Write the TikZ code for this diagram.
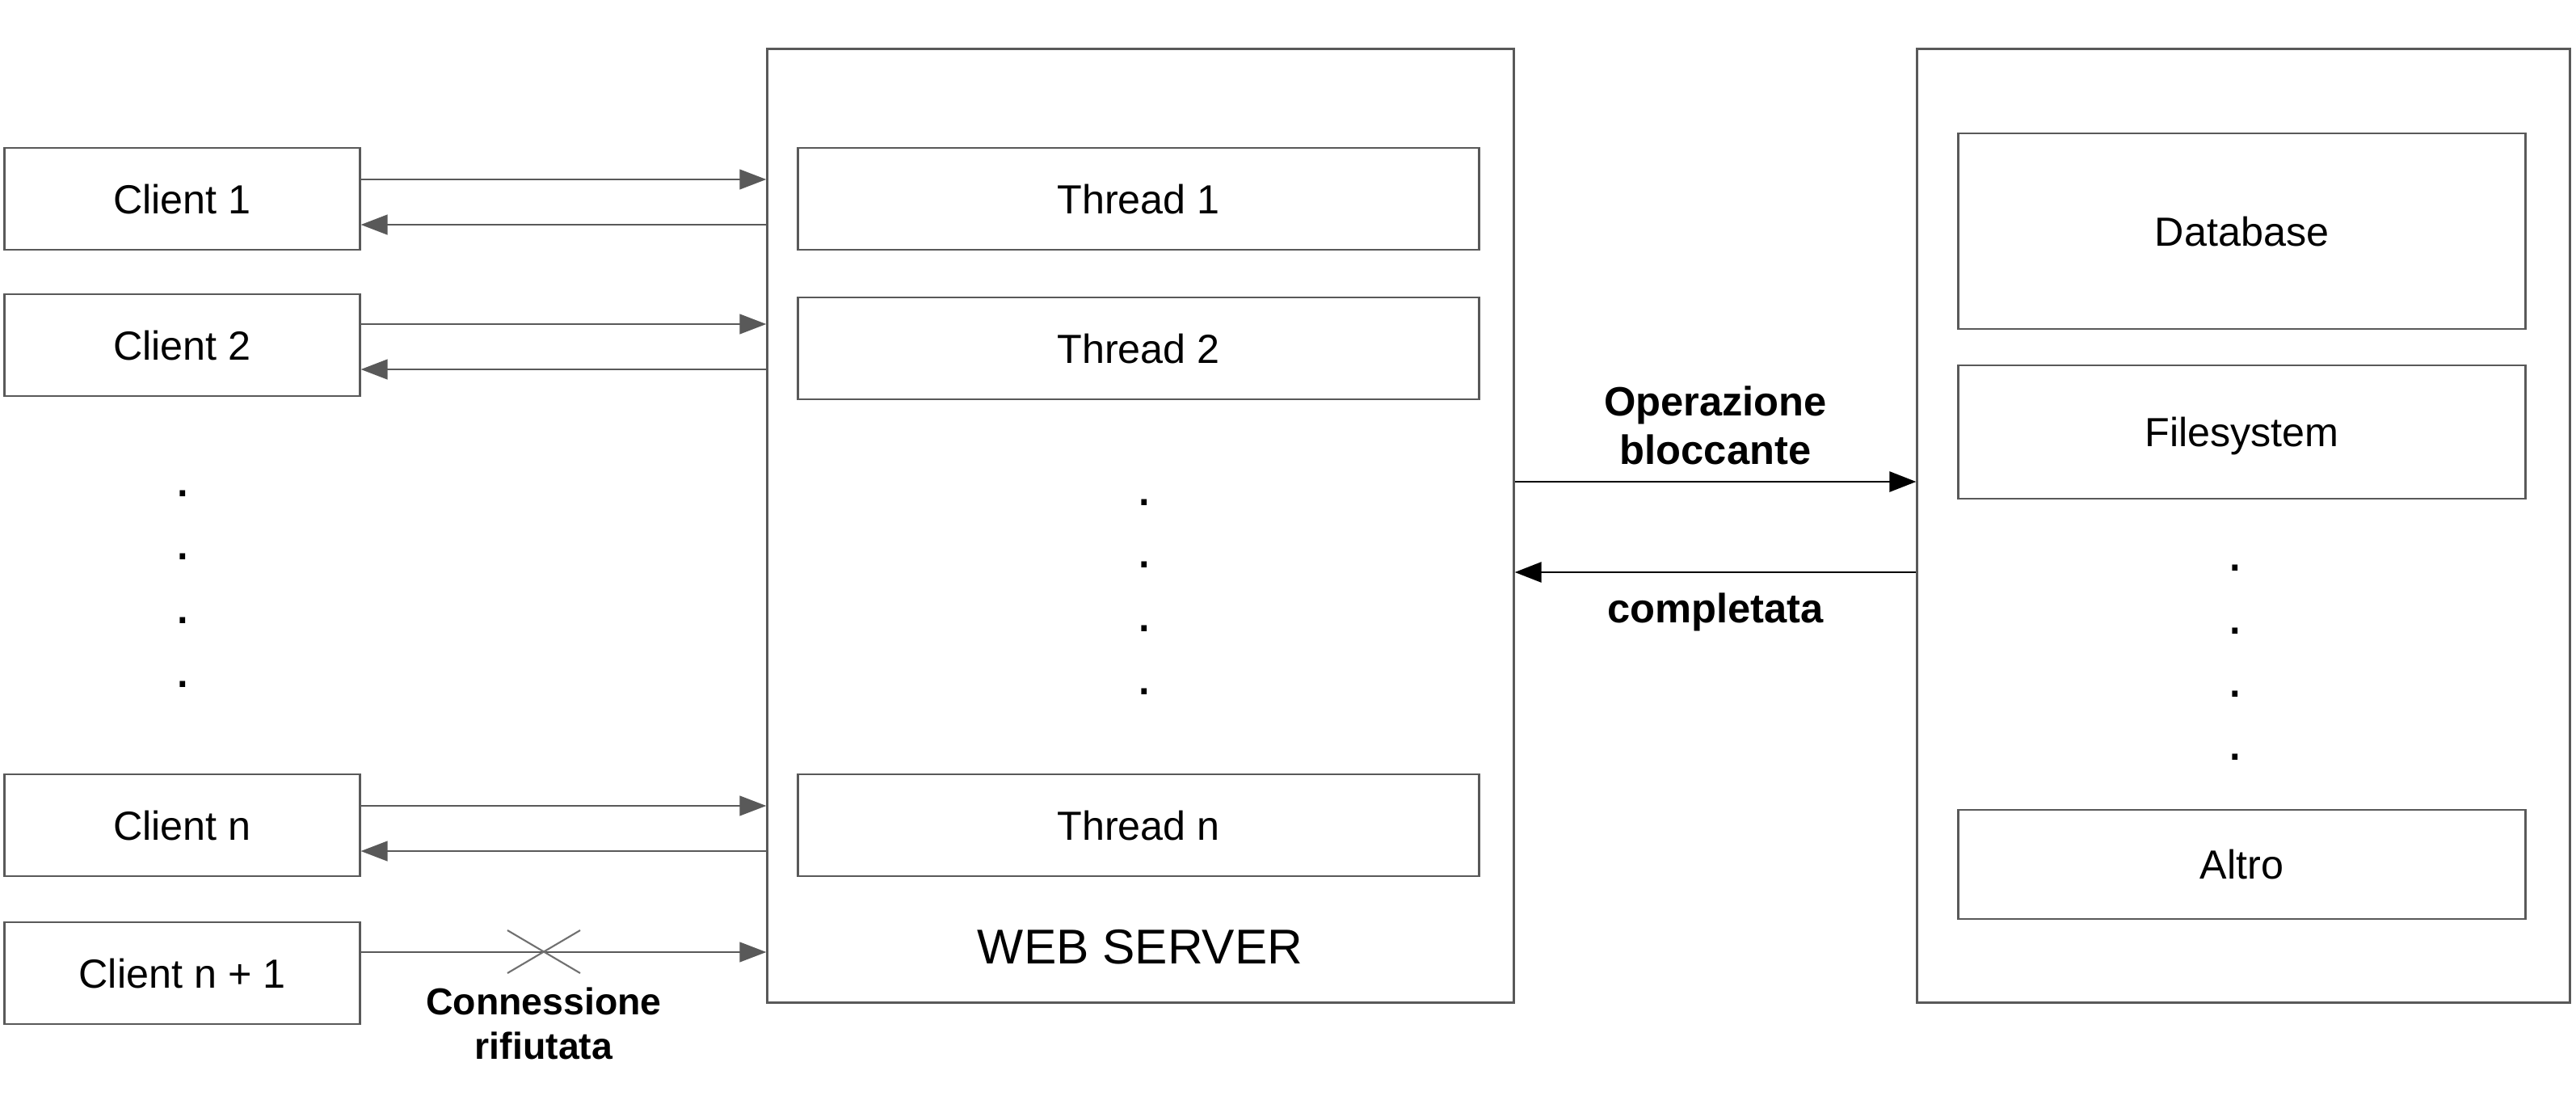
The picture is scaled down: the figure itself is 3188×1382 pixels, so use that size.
\documentclass[tikz,border=0pt]{standalone}
\usepackage{fontspec}
\setmainfont{Liberation Sans}
\usetikzlibrary{arrows.meta,calc}
\definecolor{lg}{HTML}{595959}
\definecolor{xg}{HTML}{707070}
\begin{document}
\begin{tikzpicture}[x=0.01cm,y=-0.01cm,
  box/.style={draw=lg,line width=0.8pt,inner sep=0,text height=10.3pt,text depth=0pt,font=\fontsize{14.3}{17}\selectfont},
  garrow/.style={draw=lg,line width=0.8pt,-{Triangle[length=0.33cm,width=0.245cm]}},
  barrow/.style={draw=black,line width=0.8pt,-{Triangle[length=0.33cm,width=0.25cm]}},
  lbl/.style={font=\fontsize{14.4}{17}\selectfont\bfseries,inner sep=0,anchor=base},
  slbl/.style={font=\fontsize{13.2}{16}\selectfont\bfseries,inner sep=0,anchor=base},
  dotlbl/.style={font=\fontsize{20}{24}\selectfont,inner sep=0,anchor=base},
  cbox/.style={box,minimum width=4.39cm,minimum height=1.26cm},
  tbox/.style={box,minimum width=8.42cm,minimum height=1.26cm},
  sbox/.style={box,minimum width=7.01cm}]
\useasboundingbox (0,0) rectangle (3188,1382);

% clients
\node[cbox] (c1) at (225.5,246) {Client 1};
\node[cbox] (c2) at (225.5,427) {Client 2};
\node[cbox] (cn) at (225.5,1021) {Client n};
\node[cbox] (cm) at (225.5,1204) {Client n + 1};

% web server
\node[box,minimum width=9.23cm,minimum height=11.79cm] (srv) at (1411.5,650.5) {};
\node[tbox] (t1) at (1409,246) {Thread 1};
\node[tbox] (t2) at (1409,431) {Thread 2};
\node[tbox] (tn) at (1409,1021) {Thread n};
\node[font=\fontsize{17.2}{20}\selectfont,inner sep=0,anchor=base] (wsl) at (1411,1192) {WEB SERVER};

% storage
\node[box,minimum width=8.07cm,minimum height=11.79cm] (store) at (2776.5,650.5) {};
\node[sbox,minimum height=2.42cm] (db) at (2774.5,286) {Database};
\node[sbox,minimum height=1.65cm] (fs) at (2774.5,534.5) {Filesystem};
\node[sbox,minimum height=1.35cm] (al) at (2774.5,1069.5) {Altro};

% dots
\node[dotlbl] (ld1) at (226,614.3) {.};
\node[dotlbl] (ld2) at (226,692.3) {.};
\node[dotlbl] (ld3) at (226,771.3) {.};
\node[dotlbl] (ld4) at (226,850.3) {.};
\node[dotlbl] (md1) at (1416,625.3) {.};
\node[dotlbl] (md2) at (1416,702.3) {.};
\node[dotlbl] (md3) at (1416,781.3) {.};
\node[dotlbl] (md4) at (1416,859.3) {.};
\node[dotlbl] (rd1) at (2766,706.3) {.};
\node[dotlbl] (rd2) at (2766,784.3) {.};
\node[dotlbl] (rd3) at (2766,862.3) {.};
\node[dotlbl] (rd4) at (2766,940.3) {.};

% client <-> server arrows
\draw[garrow] ([yshift=0.24cm]c1.east) -- ([yshift=0.24cm]c1.east -| srv.west);
\draw[garrow] ([yshift=-0.32cm]c1.east -| srv.west) -- ([yshift=-0.32cm]c1.east);
\draw[garrow] ([yshift=0.26cm]c2.east) -- ([yshift=0.26cm]c2.east -| srv.west);
\draw[garrow] ([yshift=-0.30cm]c2.east -| srv.west) -- ([yshift=-0.30cm]c2.east);
\draw[garrow] ([yshift=0.24cm]cn.east) -- ([yshift=0.24cm]cn.east -| srv.west);
\draw[garrow] ([yshift=-0.32cm]cn.east -| srv.west) -- ([yshift=-0.32cm]cn.east);
\draw[garrow] ([yshift=0.26cm]cm.east) -- ([yshift=0.26cm]cm.east -| srv.west);

% refused connection cross
\coordinate (xa) at (628,1151);
\coordinate (xb) at (718,1204);
\coordinate (xc) at (628,1204);
\coordinate (xd) at (718,1151);
\draw[xg,line width=0.6pt] (xa) -- (xb) (xc) -- (xd);
\node[slbl] (cr1) at (673,1255) {Connessione};
\node[slbl] (cr2) at (673,1310) {rifiutata};

% server <-> storage
\draw[barrow] (srv.east |- 0,596) -- (store.west |- 0,596);
\draw[barrow] (store.west |- 0,708) -- (srv.east |- 0,708);
\node[lbl] (op1) at (2123,514) {Operazione};
\node[lbl] (op2) at (2123,574) {bloccante};
\node[lbl] (cp) at (2123,770) {completata};
\end{tikzpicture}
\end{document}
